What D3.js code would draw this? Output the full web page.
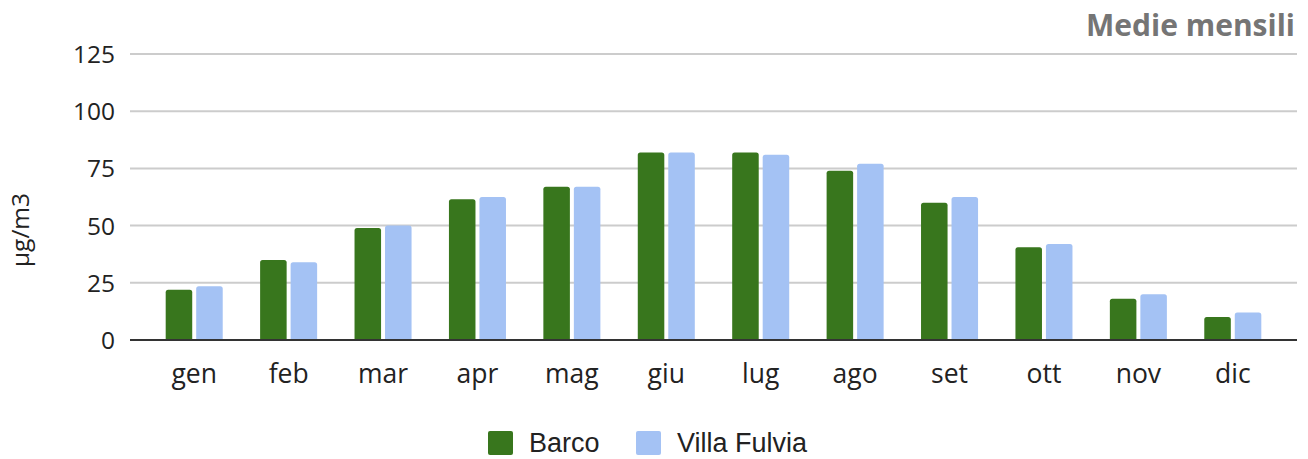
<!DOCTYPE html>
<html>
  <head>
    <title>Medie mensili</title>
    <style>
      body { margin: 0; background: #fff; }
      svg { font-family: "Open Sans", sans-serif; }
      .grid line { stroke: #cccccc; stroke-width: 2; }
      .legend-text { font-family: "Liberation Sans", Arial, sans-serif; font-size: 27px; fill: #222; }
    </style>
    <script src="https://d3js.org/d3.v7.min.js"></script>
  </head>
  <body>
    <div id="chart"></div>
    <script>
// data
var months = ["gen", "feb", "mar", "apr", "mag", "giu", "lug", "ago", "set", "ott", "nov", "dic"];
var seriesNames = ["Barco", "Villa Fulvia"];
var barco = [22, 35, 49, 61.5, 67, 82, 82, 74, 60, 40.5, 18, 10];
var villaFulvia = [23.5, 34, 50, 62.5, 67, 82, 81, 77, 62.5, 42, 20, 12];
var yTicks = [0, 25, 50, 75, 100, 125];
var colors = ["#38761d", "#a4c2f4"];

var width = 1308;
var height = 459;

var svg = d3.select("#chart").append("svg")
  .attr("width", width)
  .attr("height", height);

// scales
var yScale = d3.scaleLinear()
  .domain([0, 125])
  .range([340, 54]);

var xScale = d3.scaleBand()
  .domain(months)
  .range([147, 1280])
  .paddingInner(0.396)
  .paddingOuter(0.198);

var xInner = d3.scaleBand()
  .domain(seriesNames)
  .range([0, xScale.bandwidth()])
  .paddingInner(0.13);

var color = d3.scaleOrdinal().domain(seriesNames).range(colors);

// gridlines
svg.append("g")
  .attr("class", "grid")
  .selectAll("line")
  .data(yTicks.filter(d => d > 0)).enter()
  .append("line")
  .attr("x1", 130)
  .attr("x2", 1297)
  .attr("y1", d => yScale(d))
  .attr("y2", d => yScale(d));

// y axis labels
var yAxis = d3.axisLeft(yScale).tickValues(yTicks).tickSize(0).tickPadding(0);
var yg = svg.append("g")
  .attr("transform", "translate(115,0)")
  .call(yAxis);
yg.select(".domain").remove();
yg.selectAll("text")
  .style("font-family", "'Open Sans', sans-serif")
  .style("font-size", "24.5px")
  .style("fill", "#222")
  .attr("dy", "0.35em");

// y title
svg.append("text")
  .attr("transform", "translate(29,230) rotate(-90)")
  .attr("text-anchor", "middle")
  .style("font-size", "24.5px")
  .style("fill", "#222")
  .text("µg/m3");

// bars
var data = months.map((m, i) => ({month: m, values: [
  {name: seriesNames[0], value: barco[i]},
  {name: seriesNames[1], value: villaFulvia[i]}
]}));

svg.append("g")
  .selectAll("g")
  .data(data).enter()
  .append("g")
  .attr("transform", d => `translate(${xScale(d.month)},0)`)
  .selectAll("path")
  .data(d => d.values).enter()
  .append("path")
  .attr("fill", d => color(d.name))
  .attr("d", d => {
    var x0 = xInner(d.name), w = xInner.bandwidth();
    var y0 = yScale(d.value), y1 = yScale(0), r = 2.5;
    return `M${x0},${y1} V${y0 + r} Q${x0},${y0} ${x0 + r},${y0} H${x0 + w - r} Q${x0 + w},${y0} ${x0 + w},${y0 + r} V${y1} Z`;
  });

// baseline
svg.append("line")
  .attr("x1", 130)
  .attr("x2", 1297)
  .attr("y1", yScale(0))
  .attr("y2", yScale(0))
  .attr("stroke", "#333")
  .attr("stroke-width", 2);

// x axis labels
var xAxis = d3.axisBottom(xScale).tickSize(0).tickPadding(0);
var xg = svg.append("g")
  .attr("transform", "translate(0,383)")
  .call(xAxis);
xg.select(".domain").remove();
xg.selectAll("text")
  .attr("dy", 0)
  .style("font-family", "'Open Sans', sans-serif")
  .style("font-size", "26.5px")
  .style("fill", "#222");

// title
svg.append("text")
  .attr("x", 1295)
  .attr("y", 36)
  .attr("text-anchor", "end")
  .style("font-size", "30px")
  .style("font-weight", "bold")
  .style("fill", "#757575")
  .text("Medie mensili");

// legend
var legendX = [488, 636];
var legend = svg.append("g")
  .selectAll("g")
  .data(seriesNames).enter()
  .append("g")
  .attr("transform", (d, i) => `translate(${legendX[i]},431)`);

legend.append("rect")
  .attr("width", 25)
  .attr("height", 24)
  .attr("rx", 2)
  .attr("fill", d => color(d));

legend.append("text")
  .attr("class", "legend-text")
  .attr("x", 41)
  .attr("y", 21)
  .text(d => d);
    </script>
  </body>
</html>
